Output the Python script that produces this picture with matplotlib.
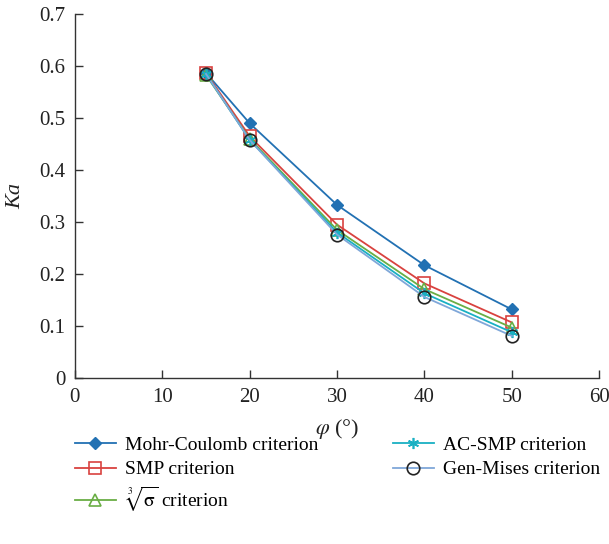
import matplotlib
matplotlib.use("Agg")
import matplotlib.pyplot as plt

plt.rcParams['font.family'] = ['Liberation Serif', 'DejaVu Serif']
plt.rcParams['mathtext.fontset'] = 'stix'

phi = [15, 20, 30, 40, 50]
mohr_coulomb = [0.587, 0.490, 0.333, 0.217, 0.132]
smp = [0.587, 0.465, 0.295, 0.182, 0.107]
cube_root = [0.583, 0.460, 0.285, 0.171, 0.097]
ac_smp = [0.585, 0.458, 0.280, 0.163, 0.088]
gen_mises = [0.585, 0.458, 0.276, 0.156, 0.081]

labels = ["Mohr-Coulomb criterion", "SMP criterion", r"$\sqrt[3]{\mathrm{\sigma}}$ criterion",
          "AC-SMP criterion", "Gen-Mises criterion"]
xticks = [0, 10, 20, 30, 40, 50, 60]
yticks = [0, 0.1, 0.2, 0.3, 0.4, 0.5, 0.6, 0.7]

fig = plt.figure(figsize=(6.09, 5.44), dpi=100)
ax = fig.add_axes([0.123, 0.305, 0.861, 0.669])

ax.plot(phi, mohr_coulomb, color='#2271b3', marker='D', markersize=6, lw=1.3, label=labels[0])
ax.plot(phi, smp, color='#d9423f', marker='s', markersize=9, mfc='none', mew=1.2, lw=1.3, label=labels[1])
ax.plot(phi, cube_root, color='#6aae45', marker='^', markersize=9, mfc='none', mew=1.2, lw=1.3, label=labels[2])
ax.plot(phi, ac_smp, color='#19b0c3', marker=(6, 2, 0), markersize=8, mew=1.2, lw=1.3, label=labels[3])
ax.plot(phi, gen_mises, color='#7fa7d9', marker='o', markersize=9, mfc='none', mec='#222222', mew=1.2, lw=1.3, label=labels[4])

ax.set_xlim(0, 60)
ax.set_ylim(0, 0.7)
ax.set_xticks(xticks)
ax.set_yticks(yticks)
ax.set_xticklabels([str(v) for v in xticks])
ax.set_yticklabels(['0'] + [f"{v:.1f}" for v in yticks[1:]])
for s in ['top', 'right']:
    ax.spines[s].set_visible(False)
for s in ['left', 'bottom']:
    ax.spines[s].set_color('#333333')
    ax.spines[s].set_linewidth(1.0)
ax.tick_params(direction='in', length=6, width=1, colors='#333333', labelsize=15, labelcolor='#222222', pad=7)

ax.set_xlabel(r"$\varphi$ (°)", fontsize=16, color='#222222', labelpad=7)
ax.set_ylabel("Ka", fontsize=16, style='italic', color='#222222', labelpad=10)

fig.legend(loc='upper left', bbox_to_anchor=(0.123, 0.198), ncol=2, frameon=False,
           fontsize=14, handlelength=2.1, columnspacing=3.8, labelspacing=0.35,
           handletextpad=0.5, borderaxespad=0, borderpad=0)

fig.savefig("out.png", dpi=100)
